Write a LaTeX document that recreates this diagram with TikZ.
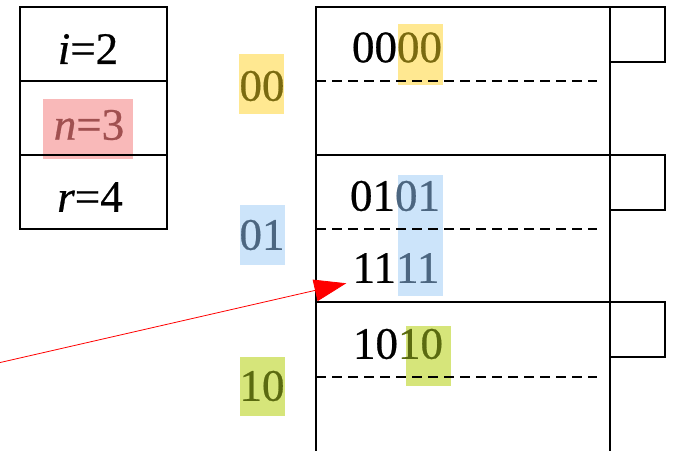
\documentclass[tikz,border=0pt]{standalone}
\usepackage{fontspec}
\setmainfont{Liberation Serif}[FakeBold=0.6]
\usetikzlibrary{arrows.meta}
\definecolor{ylwbox}{RGB}{255,232,145}
\definecolor{ylwtxt}{RGB}{122,106,16}
\definecolor{bluebox}{RGB}{204,228,250}
\definecolor{bluetxt}{RGB}{76,102,128}
\definecolor{grnbox}{RGB}{214,229,122}
\definecolor{grntxt}{RGB}{90,106,16}
\definecolor{pinkbox}{RGB}{249,185,185}
\definecolor{pinktxt}{RGB}{160,80,80}
\tikzset{
  txt/.style={inner sep=0pt, font=\fontsize{22.5}{27}\selectfont},
  frame/.style={line width=1.3pt},
  split/.style={line width=1.4pt, dash pattern=on 5pt off 3pt},
  ptr/.style={red, line width=0.4pt, -{Triangle[length=16pt,width=11pt]}}
}
\begin{document}
\begin{tikzpicture}[x=0.5pt,y=-0.5pt]
\useasboundingbox (0,0) rectangle (673,450);
% highlights
\fill[ylwbox] (239,54) rectangle (284,114);
\fill[ylwbox] (398,24) rectangle (443,85);
\fill[bluebox] (240,205) rectangle (285,265);
\fill[bluebox] (398,175) rectangle (443,296);
\fill[grnbox] (240,357) rectangle (285,416);
\fill[grnbox] (406,326) rectangle (451,386);
\fill[pinkbox] (43,99) rectangle (133,159);

% parameter table
\draw[frame] (20,7) rectangle (167,229);
\draw[frame] (20,81)--(167,81);
\draw[frame] (20,155)--(167,155);
\node[txt] (tabI) at (88,49) {\textit{i}=2};
\node[txt, text=pinktxt] (tabN) at (89,125) {\textit{n}=3};
\node[txt] (tabR) at (90,197) {\textit{r}=4};

% buckets
\draw[frame] (316,460)--(316,7)--(610,7)--(610,460);
\draw[frame] (316,155)--(610,155);
\draw[frame] (316,302)--(610,302);
\draw[frame] (610,7)--(665,7)--(665,62)--(610,62);
\draw[frame] (610,155)--(665,155)--(665,210)--(610,210);
\draw[frame] (610,302)--(665,302)--(665,357)--(610,357);
\draw[split] (316,81)--(597,81);
\draw[split] (316,229)--(597,229);
\draw[split] (316,377)--(597,377);

% keys
\node[txt] (key0000) at (397,47.5) {00\textcolor{ylwtxt}{00}};
\node[txt] (key0101) at (395,196) {01\textcolor{bluetxt}{01}};
\node[txt] (key1111) at (396,268) {11\textcolor{bluetxt}{11}};
\node[txt] (key1010) at (398,344) {10\textcolor{grntxt}{10}};

% directory labels
\node[txt, text=ylwtxt] (lbl00) at (262,86) {00};
\node[txt, text=bluetxt] (lbl01) at (262,235) {01};
\node[txt, text=grntxt] (lbl10) at (262,386) {10};

\coordinate (src) at (-2,363);
\draw[ptr] (src) -- ([xshift=-3pt]key1111.south west);
\end{tikzpicture}
\end{document}
